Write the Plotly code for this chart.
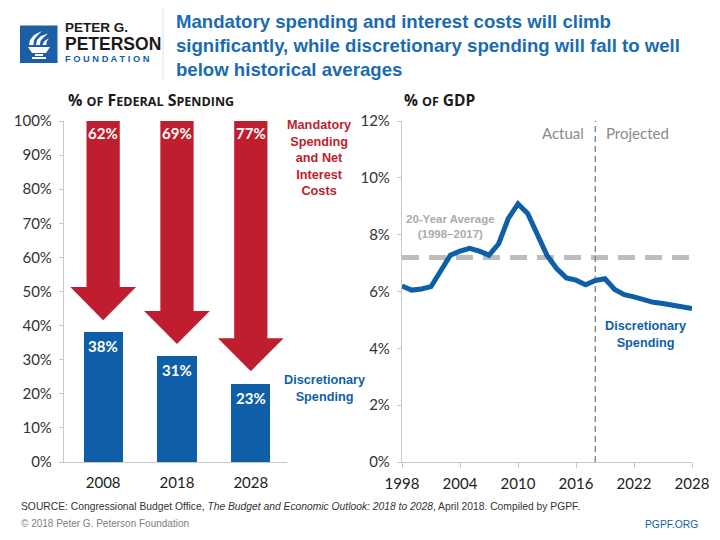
import plotly.graph_objects as go

# ---------------- data ----------------
bar_years = ["2008", "2018", "2028"]
discretionary_share = [38, 31, 23]          # % of federal spending
mandatory_share = [62, 69, 77]              # % of federal spending

line_years = list(range(1998, 2029))
discretionary_gdp = [6.19, 6.05, 6.09, 6.17, 6.72, 7.28, 7.42, 7.52, 7.42, 7.28,
                     7.68, 8.57, 9.08, 8.75, 8.01, 7.27, 6.81, 6.48, 6.40, 6.24,
                     6.39, 6.45, 6.07, 5.89, 5.81, 5.71, 5.62, 5.58, 5.52, 5.46, 5.40]
avg_20yr = 7.2
projection_start = 2018

left_ytick_vals = [0, 10, 20, 30, 40, 50, 60, 70, 80, 90, 100]
right_ytick_vals = [0, 2, 4, 6, 8, 10, 12]
right_xtick_vals = [1998, 2004, 2010, 2016, 2022, 2028]

# ---------------- style ----------------
PAGE_MARGIN = 8                      # default <body> margin of the page
W, H = 720 - PAGE_MARGIN, 540 - PAGE_MARGIN
BLUE = "#0f5fa8"
RED = "#be1e2d"
TITLE_BLUE = "#1a6bb1"
GRID = "#c8c8c8"
TXT = "#333333"
BOLDF = "Liberation Sans, Arial, sans-serif"
SANS = "Lato, Open Sans, sans-serif"
HEAD = "Open Sans, Lato, sans-serif"


def px(x):
    return (x - PAGE_MARGIN) / W


def py(y):
    return 1 - (y - PAGE_MARGIN) / H


fig = go.Figure()

# --- left: discretionary bars ---
xpos = list(range(len(bar_years)))
fig.add_trace(go.Bar(x=xpos, y=discretionary_share, width=0.53, marker_color=BLUE,
                     marker_line_width=0, xaxis="x", yaxis="y", hoverinfo="skip"))

# --- left: mandatory arrows (built from data) ---
SHAFT_HALF, HEAD_HALF, TIP_GAP, HEAD_LEN = 0.225, 0.445, 3.6, 9.7
for i, (d, m) in enumerate(zip(discretionary_share, mandatory_share)):
    top = d + m
    tip = d + TIP_GAP
    base = tip + HEAD_LEN
    xs = [i - SHAFT_HALF, i + SHAFT_HALF, i + SHAFT_HALF, i + HEAD_HALF, i,
          i - HEAD_HALF, i - SHAFT_HALF, i - SHAFT_HALF]
    ys = [top, top, base, base, tip, base, base, top]
    fig.add_trace(go.Scatter(x=xs, y=ys, fill="toself", fillcolor=RED, mode="lines",
                             line=dict(width=0, color=RED), xaxis="x", yaxis="y",
                             hoverinfo="skip"))

# --- right: average line, projection line, discretionary line ---
fig.add_trace(go.Scatter(x=[line_years[0], line_years[-1]], y=[avg_20yr, avg_20yr],
                         mode="lines", line=dict(color="#bdbdbd", width=5, dash="17px,10px"),
                         xaxis="x2", yaxis="y2", hoverinfo="skip"))
fig.add_trace(go.Scatter(x=[projection_start, projection_start], y=[0, right_ytick_vals[-1]],
                         mode="lines", line=dict(color="#8a8a8a", width=1.5, dash="6px,4px"),
                         xaxis="x2", yaxis="y2", hoverinfo="skip"))
fig.add_trace(go.Scatter(x=line_years, y=discretionary_gdp, mode="lines",
                         line=dict(color=BLUE, width=5, shape="linear"),
                         xaxis="x2", yaxis="y2", hoverinfo="skip"))

ann = []


def note(x, y, text, font, xanchor="center", yanchor="middle", xref="paper", yref="paper",
         **kw):
    ann.append(dict(x=x, y=y, xref=xref, yref=yref, text=text, showarrow=False,
                    xanchor=xanchor, yanchor=yanchor, font=font, **kw))


# bar value labels
for i, (d, m) in enumerate(zip(discretionary_share, mandatory_share)):
    note(i, d + m, f"<b>{m}%</b>", dict(family=SANS, size=15, color="white"),
         xref="x", yref="y", yshift=-12)
    note(i, d, f"<b>{d}%</b>", dict(family=SANS, size=15, color="white"),
         xref="x", yref="y", yshift=-14)

# series labels
note(px(319), py(157.5), "<b>Mandatory<br>Spending<br>and Net<br>Interest<br>Costs</b>",
     dict(family=BOLDF, size=12.7, color=RED), align="center")
note(px(324), py(388), "<b>Discretionary<br>Spending</b>",
     dict(family=BOLDF, size=12.7, color=BLUE), align="center")
note(px(645), py(334), "<b>Discretionary<br>Spending</b>",
     dict(family=BOLDF, size=12.7, color=BLUE), align="center")
note(px(450), py(226), "<b>20-Year Average<br>(1998–2017)</b>",
     dict(family=BOLDF, size=11.5, color="#ababab"), align="center")
note(projection_start, py(133), "Actual", dict(family=SANS, size=15, color="#8a8a8a"),
     xref="x2", xanchor="right", xshift=-9)
note(projection_start, py(133), "Projected", dict(family=SANS, size=15, color="#8a8a8a"),
     xref="x2", xanchor="left", xshift=9)

# panel headers (small caps)
sc = "<span style='font-size:12.5px'>"
note(px(66), py(100), f"<b>% {sc}OF</span> F{sc}EDERAL</span> S{sc}PENDING</span></b>",
     dict(family=HEAD, size=16, color="#1a1a1a"), xanchor="left")
note(px(402), py(100), f"<b>% {sc}OF</span> GDP</b>",
     dict(family=HEAD, size=15.5, color="#1a1a1a"), xanchor="left")

# title
title_lines = ["Mandatory spending and interest costs will climb",
               "significantly, while discretionary spending will fall to well",
               "below historical averages"]
for k, t in enumerate(title_lines):
    note(px(174), py(22 + 24 * k), f"<b>{t}</b>",
         dict(family=BOLDF, size=18.6, color=TITLE_BLUE), xanchor="left")

# logo text
note(px(62.5), py(37.5),
     "<b>PETER G.<br><span style='font-size:17.5px'>PETERSON</span></b>",
     dict(family=BOLDF, size=13.5, color="#1a1a1a"), xanchor="left", align="left")
note(px(63), py(59.5), "<b>F O U N D A T I O N</b>", dict(family=BOLDF, size=9.3, color=BLUE),
     xanchor="left")

# footer
note(px(19), py(506.5),
     "SOURCE: Congressional Budget Office, <i>The Budget and Economic Outlook: 2018 to 2028</i>, April 2018. Compiled by PGPF.",
     dict(family=BOLDF, size=10.3, color="#333333"), xanchor="left")
note(px(19), py(523), "© 2018 Peter G. Peterson Foundation",
     dict(family=BOLDF, size=10, color="#808080"), xanchor="left")
note(px(700), py(524), "PGPF.ORG", dict(family=BOLDF, size=10.3, color=BLUE), xanchor="right")


# logo shapes
def path(pts, ox=20, oy=25):
    return "M " + " L ".join(f"{px(ox + a):.5f},{py(oy + b):.5f}" for a, b in pts) + " Z"


shapes = [
    dict(type="rect", xref="paper", yref="paper", x0=px(20), x1=px(57.5), y0=py(63), y1=py(25.5),
         fillcolor="#1d5fa6", line_width=0, layer="above"),
    dict(type="line", xref="paper", yref="paper", x0=px(163), x1=px(163), y0=py(8), y1=py(80),
         line=dict(color="#e3e3e3", width=1)),
]
torch_parts = [
    [(8, 22), (30, 22), (26, 28), (12, 28)],                          # bowl
    [(15, 29), (23, 29), (23, 31), (15, 31)],                          # stem
    [(12, 32), (26, 32), (26, 34), (12, 34)],                          # base
    [(9, 20), (10, 15), (14, 10), (22, 6), (17, 11), (14, 15), (13.5, 20)],
    [(16, 20), (17, 15), (21, 11), (28, 8.5), (23, 13), (20.5, 16), (20, 20)],
    [(22.5, 20), (24, 16.5), (29, 13), (26.5, 17), (26.5, 20)],
]
for part in torch_parts:
    shapes.append(dict(type="path", xref="paper", yref="paper", path=path(part),
                       fillcolor="white", line_width=0, layer="above"))

ydom = [py(462), py(121)]
axis_common = dict(showgrid=False, zeroline=False, showline=True, linecolor=GRID,
                   linewidth=1.2, fixedrange=True, automargin=False)

fig.update_layout(
    template="none",
    width=W, height=H, margin=dict(l=0, r=0, t=0, b=0, pad=0), autosize=False,
    paper_bgcolor="white", plot_bgcolor="white", showlegend=False,
    hovermode=False, bargap=0,
    annotations=ann, shapes=shapes,
    xaxis=dict(domain=[px(64), px(287)], range=[-0.53, 2.49], tickvals=xpos,
               ticktext=bar_years, ticks="", anchor="y", ticklabelstandoff=7,
               tickfont=dict(family=SANS, size=15, color="#222222"), **axis_common),
    yaxis=dict(domain=ydom, range=[0, 100], tickvals=left_ytick_vals,
               ticktext=[f"{v}%" for v in left_ytick_vals], ticks="outside", ticklen=4,
               tickcolor=GRID, anchor="x", ticklabelstandoff=4,
               tickfont=dict(family=SANS, size=15, color=TXT), **axis_common),
    xaxis2=dict(domain=[px(402), px(692)], range=[line_years[0], line_years[-1]],
                tickvals=right_xtick_vals, ticktext=[str(v) for v in right_xtick_vals],
                ticks="outside", ticklen=5, tickcolor=GRID, anchor="y2", ticklabelstandoff=3,
                tickfont=dict(family=SANS, size=15, color="#222222"), **axis_common),
    yaxis2=dict(domain=ydom, range=[0, right_ytick_vals[-1]], tickvals=right_ytick_vals,
                ticktext=[f"{v}%" for v in right_ytick_vals], ticks="outside", ticklen=4,
                tickcolor=GRID, anchor="x2", ticklabelstandoff=4,
                tickfont=dict(family=SANS, size=15, color=TXT), **axis_common),
)

fig.write_html("out.html")
